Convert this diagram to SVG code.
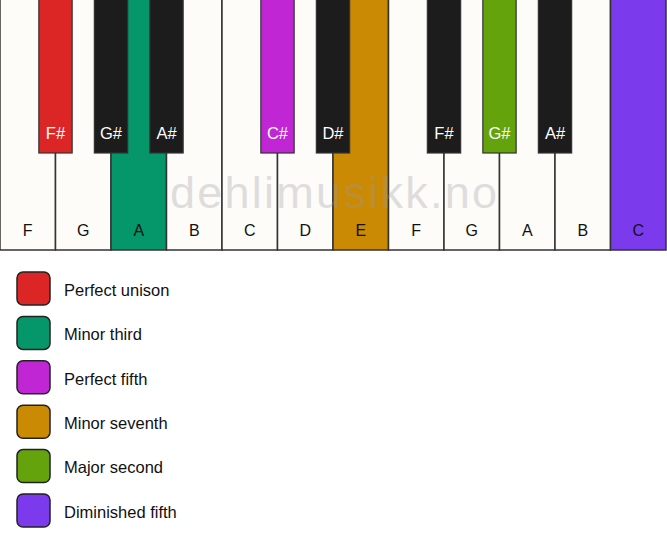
<svg xmlns="http://www.w3.org/2000/svg" width="667" height="550" viewBox="0 0 667 550">
<style>
.w{fill:#fdfcf9;stroke:#333;stroke-width:1.5}
.b{fill:#1c1c1c;stroke:#333;stroke-width:1.2}
.wl{font-family:"Liberation Sans",Arial,sans-serif;font-size:16px;fill:#111;text-anchor:middle}
.bl{font-family:"Liberation Sans",Arial,sans-serif;font-size:16.5px;fill:#fff;text-anchor:middle}
.sw{stroke:#222;stroke-width:1.5}
.lt{font-family:"Liberation Sans",Arial,sans-serif;font-size:16.5px;fill:#111}
.wm{font-family:"Liberation Sans",Arial,sans-serif;font-size:45px;fill:#999;opacity:0.3}
</style>
<rect width="667" height="550" fill="#ffffff"/>
<g id="white-keys">
<g id="key-F1"><rect class="w" x="0" y="-2" width="55.5" height="252"/><text class="wl" x="27.75" y="236">F</text></g>
<g id="key-G1"><rect class="w" x="55.5" y="-2" width="55.5" height="252"/><text class="wl" x="83.25" y="236">G</text></g>
<g id="key-A1"><rect class="w" x="111" y="-2" width="55.5" height="252" style="fill:#059669"/><text class="wl" x="138.75" y="236">A</text></g>
<g id="key-B1"><rect class="w" x="166.5" y="-2" width="55.5" height="252"/><text class="wl" x="194.25" y="236">B</text></g>
<g id="key-C1"><rect class="w" x="222" y="-2" width="55.5" height="252"/><text class="wl" x="249.75" y="236">C</text></g>
<g id="key-D1"><rect class="w" x="277.5" y="-2" width="55.5" height="252"/><text class="wl" x="305.25" y="236">D</text></g>
<g id="key-E1"><rect class="w" x="333" y="-2" width="55.5" height="252" style="fill:#CA8A04"/><text class="wl" x="360.75" y="236">E</text></g>
<g id="key-F2"><rect class="w" x="388.5" y="-2" width="55.5" height="252"/><text class="wl" x="416.25" y="236">F</text></g>
<g id="key-G2"><rect class="w" x="444" y="-2" width="55.5" height="252"/><text class="wl" x="471.75" y="236">G</text></g>
<g id="key-A2"><rect class="w" x="499.5" y="-2" width="55.5" height="252"/><text class="wl" x="527.25" y="236">A</text></g>
<g id="key-B2"><rect class="w" x="555" y="-2" width="55.5" height="252"/><text class="wl" x="582.75" y="236">B</text></g>
<g id="key-C2"><rect class="w" x="610.5" y="-2" width="55.5" height="252" style="fill:#7C3AED"/><text class="wl" x="638.25" y="236">C</text></g>
</g>
<text class="wm" x="170" y="208" textLength="327" lengthAdjust="spacing">dehlimusikk.no</text>
<g id="black-keys">
<g id="key-Fs1"><rect class="b" x="38.85" y="-2" width="33.3" height="155" style="fill:#DC2626"/><text class="bl" x="55.5" y="138.7">F#</text></g>
<g id="key-Gs1"><rect class="b" x="94.35" y="-2" width="33.3" height="155"/><text class="bl" x="111" y="138.7">G#</text></g>
<g id="key-As1"><rect class="b" x="149.85" y="-2" width="33.3" height="155"/><text class="bl" x="166.5" y="138.7">A#</text></g>
<g id="key-Cs1"><rect class="b" x="260.85" y="-2" width="33.3" height="155" style="fill:#C026D3"/><text class="bl" x="277.5" y="138.7">C#</text></g>
<g id="key-Ds1"><rect class="b" x="316.35" y="-2" width="33.3" height="155"/><text class="bl" x="333" y="138.7">D#</text></g>
<g id="key-Fs2"><rect class="b" x="427.35" y="-2" width="33.3" height="155"/><text class="bl" x="444" y="138.7">F#</text></g>
<g id="key-Gs2"><rect class="b" x="482.85" y="-2" width="33.3" height="155" style="fill:#65A30D"/><text class="bl" x="499.5" y="138.7">G#</text></g>
<g id="key-As2"><rect class="b" x="538.35" y="-2" width="33.3" height="155"/><text class="bl" x="555" y="138.7">A#</text></g>
</g>
<g id="connectors"></g>
<g id="legend">
<g id="legend-unison"><rect class="sw" x="17" y="272" width="33" height="33" rx="6" fill="#DC2626"/><text class="lt" x="64" y="295.7">Perfect unison</text></g>
<g id="legend-minor-third"><rect class="sw" x="17" y="316.4" width="33" height="33" rx="6" fill="#059669"/><text class="lt" x="64" y="340.1">Minor third</text></g>
<g id="legend-perfect-fifth"><rect class="sw" x="17" y="360.8" width="33" height="33" rx="6" fill="#C026D3"/><text class="lt" x="64" y="384.5">Perfect fifth</text></g>
<g id="legend-minor-seventh"><rect class="sw" x="17" y="405.2" width="33" height="33" rx="6" fill="#CA8A04"/><text class="lt" x="64" y="428.9">Minor seventh</text></g>
<g id="legend-major-second"><rect class="sw" x="17" y="449.6" width="33" height="33" rx="6" fill="#65A30D"/><text class="lt" x="64" y="473.3">Major second</text></g>
<g id="legend-diminished-fifth"><rect class="sw" x="17" y="494" width="33" height="33" rx="6" fill="#7C3AED"/><text class="lt" x="64" y="517.7">Diminished fifth</text></g>
</g>
</svg>
